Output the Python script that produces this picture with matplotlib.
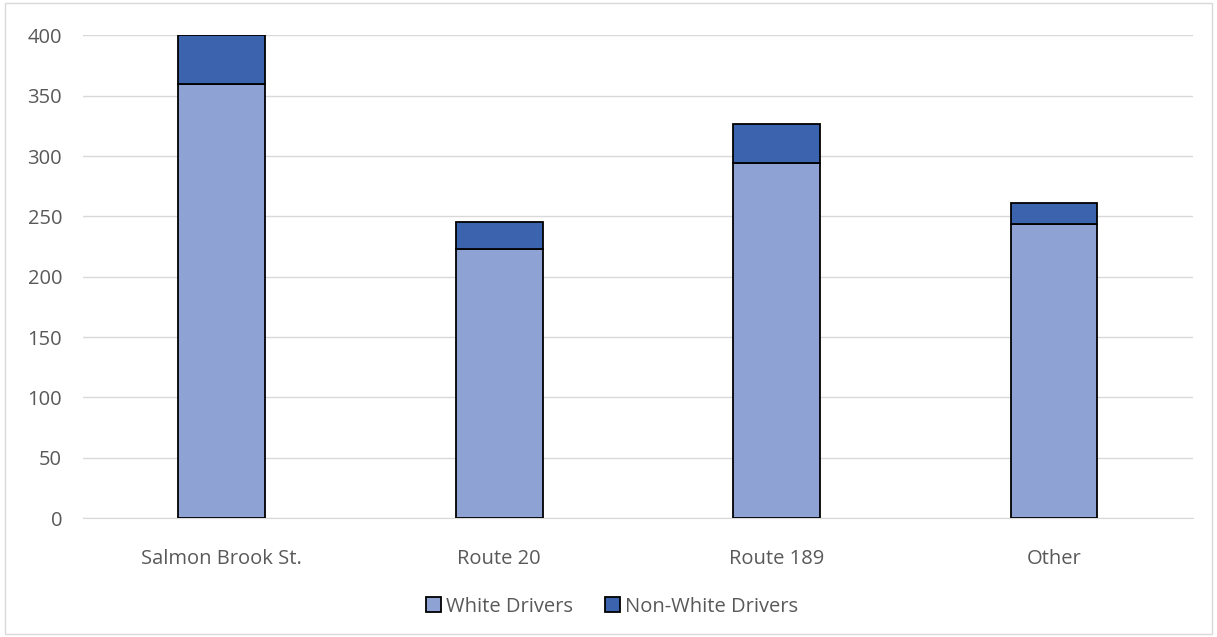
import matplotlib.pyplot as plt
import numpy as np

categories = ["Salmon Brook St.", "Route 20", "Route 189", "Other"]
white = [360, 223, 294, 244]
non_white = [40, 22, 33, 17]

plt.rcParams['font.family'] = ['Open Sans', 'DejaVu Sans']

fig = plt.figure(figsize=(12.17, 6.37), dpi=100)
ax = fig.add_axes([0.0682, 0.1868, 0.9118, 0.7575])

x = np.arange(len(categories))
w = 0.313
ax.bar(x, white, w, color='#8fa2d4', edgecolor='black', linewidth=1.3,
       label='White Drivers', zorder=3)
ax.bar(x, non_white, w, bottom=white, color='#3c64ae', edgecolor='black',
       linewidth=1.3, label='Non-White Drivers', zorder=3)

ax.set_xlim(-0.5, 3.5)
ax.set_ylim(0, 400)
ax.set_yticks(np.arange(0, 401, 50))
ax.set_xticks(x)
ax.set_xticklabels(categories)
ax.grid(axis='y', color='#d9d9d9', linewidth=1, zorder=0)
for s in ['top', 'right', 'left']:
    ax.spines[s].set_visible(False)
ax.spines['bottom'].set_color('#d9d9d9')
ax.tick_params(axis='both', length=0, labelsize=14.5, colors='#595959')
ax.tick_params(axis='y', pad=15)
ax.tick_params(axis='x', pad=22)

leg = ax.legend(loc='center', bbox_to_anchor=(0.477, -0.184), ncol=2,
                frameon=False, fontsize=14.5, handlelength=0.75, handleheight=0.75,
                handletextpad=0.25, columnspacing=1.6)
for t in leg.get_texts():
    t.set_color('#595959')

fig.patches.append(plt.Rectangle((0.004, 0.004), 0.992, 0.992, transform=fig.transFigure,
                                 fill=False, edgecolor='#d9d9d9', linewidth=1))

fig.savefig('out.png', dpi=100)
